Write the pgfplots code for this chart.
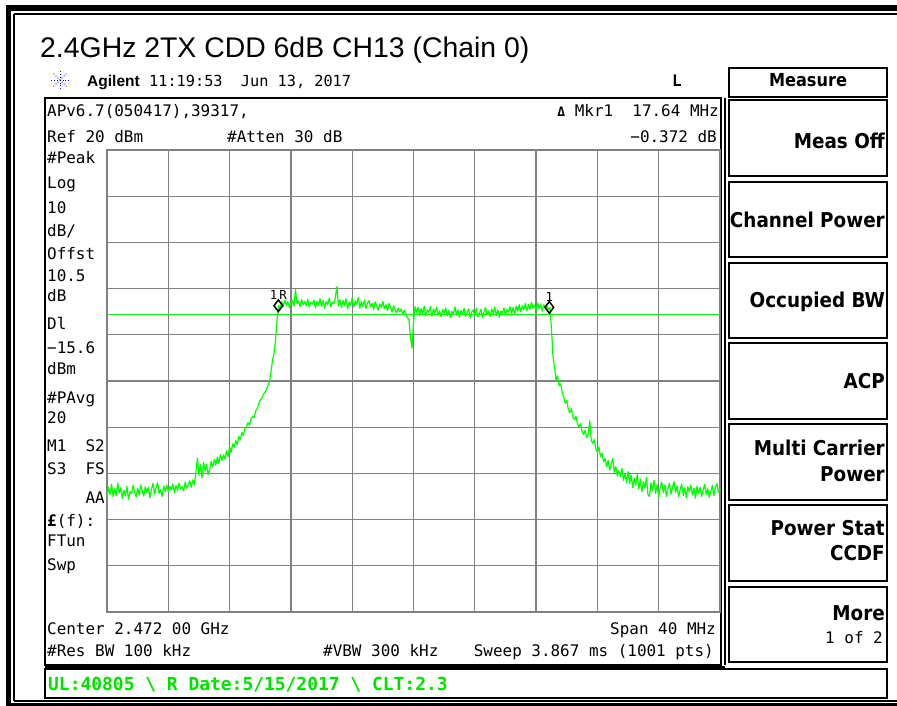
\documentclass[border=0pt]{standalone}
\usepackage{fontspec}
\usepackage{pgfplots}
\usepackage{pgfplotstable}
\pgfplotsset{compat=1.18}
\setmainfont{Liberation Sans}
\newfontfamily\mono{DejaVu Sans Mono}
\newfontfamily\keyf{DejaVu Sans Condensed}
\definecolor{trace}{RGB}{0,255,0}
\definecolor{gridc}{RGB}{128,128,128}
\definecolor{txtgreen}{RGB}{0,225,0}
\pgfplotstableread{
f p
2452.0 -55.2
2452.1 -53.0
2452.2 -54.6
2452.3 -52.4
2452.4 -55.0
2452.5 -53.3
2452.6 -54.8
2452.7 -52.1
2452.8 -54.2
2452.9 -53.1
2453.0 -55.4
2453.1 -53.6
2453.2 -54.9
2453.3 -52.8
2453.4 -55.6
2453.5 -53.9
2453.6 -54.4
2453.7 -52.6
2453.8 -54.0
2453.9 -55.1
2454.0 -53.2
2454.1 -54.7
2454.2 -52.5
2454.3 -53.8
2454.4 -54.9
2454.5 -52.9
2454.6 -54.1
2454.7 -53.0
2454.8 -55.3
2454.9 -53.4
2455.0 -52.2
2455.1 -54.5
2455.2 -53.1
2455.3 -52.0
2455.4 -54.3
2455.5 -53.5
2455.6 -55.0
2455.7 -52.7
2455.8 -53.9
2455.9 -52.5
2456.0 -54.0
2456.1 -52.8
2456.2 -53.6
2456.3 -52.3
2456.4 -54.2
2456.5 -52.6
2456.6 -53.7
2456.7 -52.1
2456.8 -53.4
2456.9 -52.9
2457.0 -53.8
2457.1 -51.9
2457.2 -53.2
2457.3 -52.4
2457.4 -51.6
2457.5 -53.0
2457.6 -51.4
2457.7 -52.5
2457.8 -49.8
2457.9 -46.7
2458.0 -50.4
2458.1 -48.1
2458.2 -51.0
2458.3 -47.6
2458.4 -49.5
2458.5 -48.0
2458.6 -50.3
2458.7 -49.2
2458.8 -47.4
2458.9 -48.6
2459.0 -47.0
2459.1 -48.2
2459.2 -46.5
2459.3 -47.8
2459.4 -45.9
2459.5 -47.2
2459.6 -46.0
2459.7 -46.9
2459.8 -45.1
2459.9 -46.4
2460.0 -44.2
2460.1 -45.5
2460.2 -43.6
2460.3 -44.4
2460.4 -42.9
2460.5 -43.8
2460.6 -42.0
2460.7 -42.6
2460.8 -41.1
2460.9 -41.8
2461.0 -40.2
2461.1 -39.9
2461.2 -39.0
2461.3 -39.6
2461.4 -38.1
2461.5 -37.7
2461.6 -37.9
2461.7 -36.5
2461.8 -36.0
2461.9 -34.9
2462.0 -34.1
2462.1 -33.8
2462.2 -32.9
2462.3 -32.5
2462.4 -31.9
2462.5 -31.0
2462.6 -30.2
2462.7 -28.0
2462.8 -25.5
2462.9 -24.0
2463.0 -21.1
2463.1 -16.5
2463.2 -13.7
2463.3 -14.5
2463.4 -12.8
2463.5 -13.9
2463.6 -12.5
2463.7 -13.6
2463.8 -12.9
2463.9 -14.1
2464.0 -13.0
2464.1 -12.6
2464.2 -13.8
2464.3 -10.2
2464.4 -13.3
2464.5 -12.7
2464.6 -13.9
2464.7 -12.4
2464.8 -13.5
2464.9 -12.8
2465.0 -13.7
2465.1 -12.3
2465.2 -14.0
2465.3 -12.9
2465.4 -13.4
2465.5 -12.5
2465.6 -14.2
2465.7 -12.7
2465.8 -13.6
2465.9 -12.2
2466.0 -13.9
2466.1 -12.6
2466.2 -14.3
2466.3 -12.8
2466.4 -13.5
2466.5 -12.1
2466.6 -14.0
2466.7 -12.9
2466.8 -13.3
2466.9 -11.8
2467.0 -9.6
2467.1 -13.8
2467.2 -12.4
2467.3 -14.1
2467.4 -12.6
2467.5 -13.7
2467.6 -12.2
2467.7 -14.4
2467.8 -12.9
2467.9 -13.6
2468.0 -12.0
2468.1 -14.0
2468.2 -12.7
2468.3 -13.4
2468.4 -11.9
2468.5 -14.2
2468.6 -12.8
2468.7 -13.9
2468.8 -12.5
2468.9 -14.3
2469.0 -13.1
2469.1 -12.6
2469.2 -14.0
2469.3 -13.2
2469.4 -14.5
2469.5 -12.9
2469.6 -13.8
2469.7 -14.6
2469.8 -13.3
2469.9 -14.1
2470.0 -12.8
2470.1 -14.4
2470.2 -13.5
2470.3 -14.8
2470.4 -13.2
2470.5 -14.0
2470.6 -15.1
2470.7 -13.7
2470.8 -14.6
2470.9 -15.3
2471.0 -14.2
2471.1 -15.0
2471.2 -14.4
2471.3 -15.6
2471.4 -14.7
2471.5 -15.4
2471.6 -16.2
2471.7 -16.8
2471.8 -20.4
2471.9 -22.9
2472.0 -17.5
2472.1 -13.9
2472.2 -15.2
2472.3 -14.0
2472.4 -15.8
2472.5 -14.3
2472.6 -15.5
2472.7 -13.8
2472.8 -15.9
2472.9 -14.6
2473.0 -15.2
2473.1 -13.9
2473.2 -16.0
2473.3 -14.4
2473.4 -15.3
2473.5 -14.1
2473.6 -15.7
2473.7 -14.8
2473.8 -16.1
2473.9 -14.5
2474.0 -15.4
2474.1 -14.2
2474.2 -15.9
2474.3 -14.7
2474.4 -16.3
2474.5 -14.9
2474.6 -15.6
2474.7 -14.0
2474.8 -15.8
2474.9 -14.6
2475.0 -16.2
2475.1 -14.8
2475.2 -15.5
2475.3 -14.3
2475.4 -16.0
2475.5 -15.0
2475.6 -14.4
2475.7 -16.4
2475.8 -15.1
2475.9 -14.6
2476.0 -15.9
2476.1 -14.2
2476.2 -16.1
2476.3 -15.3
2476.4 -14.5
2476.5 -16.3
2476.6 -15.0
2476.7 -14.1
2476.8 -15.7
2476.9 -14.8
2477.0 -16.0
2477.1 -14.4
2477.2 -15.4
2477.3 -14.0
2477.4 -15.8
2477.5 -14.6
2477.6 -16.2
2477.7 -14.9
2477.8 -15.3
2477.9 -14.2
2478.0 -15.7
2478.1 -14.5
2478.2 -15.1
2478.3 -13.9
2478.4 -15.4
2478.5 -14.1
2478.6 -15.6
2478.7 -13.8
2478.8 -14.9
2478.9 -13.5
2479.0 -15.0
2479.1 -13.7
2479.2 -14.6
2479.3 -13.2
2479.4 -14.8
2479.5 -13.4
2479.6 -14.5
2479.7 -13.0
2479.8 -14.3
2479.9 -13.6
2480.0 -14.7
2480.1 -13.1
2480.2 -14.4
2480.3 -13.3
2480.4 -14.9
2480.5 -13.5
2480.6 -14.2
2480.7 -13.8
2480.8 -14.6
2480.9 -14.0
2481.0 -18.5
2481.1 -24.6
2481.2 -27.0
2481.3 -29.8
2481.4 -28.9
2481.5 -31.0
2481.6 -30.6
2481.7 -32.4
2481.8 -33.5
2481.9 -34.8
2482.0 -34.2
2482.1 -36.1
2482.2 -36.9
2482.3 -36.0
2482.4 -37.8
2482.5 -38.4
2482.6 -37.6
2482.7 -39.3
2482.8 -40.0
2482.9 -39.2
2483.0 -41.0
2483.1 -41.6
2483.2 -40.7
2483.3 -42.3
2483.4 -41.5
2483.5 -38.6
2483.6 -42.9
2483.7 -43.5
2483.8 -42.6
2483.9 -44.8
2484.0 -45.4
2484.1 -44.3
2484.2 -46.4
2484.3 -45.6
2484.4 -47.5
2484.5 -46.8
2484.6 -48.6
2484.7 -47.2
2484.8 -49.3
2484.9 -48.0
2485.0 -46.7
2485.1 -49.8
2485.2 -48.5
2485.3 -50.6
2485.4 -49.4
2485.5 -50.7
2485.6 -48.9
2485.7 -51.5
2485.8 -50.1
2485.9 -52.0
2486.0 -49.6
2486.1 -52.2
2486.2 -50.4
2486.3 -53.1
2486.4 -51.0
2486.5 -52.6
2486.6 -50.2
2486.7 -53.4
2486.8 -51.3
2486.9 -54.0
2487.0 -51.8
2487.1 -53.2
2487.2 -50.9
2487.3 -54.6
2487.4 -55.0
2487.5 -52.0
2487.6 -53.7
2487.7 -51.5
2487.8 -54.3
2487.9 -52.4
2488.0 -55.2
2488.1 -52.8
2488.2 -51.9
2488.3 -54.1
2488.4 -52.6
2488.5 -55.0
2488.6 -53.3
2488.7 -52.1
2488.8 -54.5
2488.9 -53.0
2489.0 -51.8
2489.1 -54.2
2489.2 -52.7
2489.3 -55.1
2489.4 -53.5
2489.5 -52.3
2489.6 -54.8
2489.7 -53.1
2489.8 -55.3
2489.9 -52.9
2490.0 -54.0
2490.1 -52.5
2490.2 -54.7
2490.3 -53.2
2490.4 -55.4
2490.5 -52.8
2490.6 -54.3
2490.7 -53.0
2490.8 -55.0
2490.9 -53.6
2491.0 -52.4
2491.1 -54.6
2491.2 -53.3
2491.3 -55.2
2491.4 -53.9
2491.5 -52.6
2491.6 -54.8
2491.7 -53.0
2491.8 -52.2
2491.9 -54.1
2492.0 -53.1
}\spectrum

\newcommand{\mfont}{\mono\fontsize{16}{16}\selectfont}
\newcommand{\kfont}{\keyf\bfseries\fontsize{20.5}{20.5}\selectfont}

\begin{document}
\begin{tikzpicture}[x=1bp,y=-1bp]
\useasboundingbox (0,0) rectangle (897,706);
% outer frame
\fill[black] (6,5) rectangle (897,11);
\fill[black] (6,5) rectangle (11,706);
\fill[black] (6,703) rectangle (897,706);
\draw[line width=1.8bp] (14,14) -- (897,14);
\draw[line width=1.8bp] (14,14) -- (14,701);
\draw[line width=1.8bp] (14,701) -- (897,701);
% title
\node[anchor=base west, inner sep=0pt, font=\fontsize{28.5}{28.5}\selectfont] at (40,58) {2.4GHz 2TX CDD 6dB CH13 (Chain 0)};
% header
\begin{scope}[blue, line width=0.9bp, dotted]
\draw (51,80) -- (69,80);
\draw (60,71) -- (60,89);
\draw (53.6,73.6) -- (66.4,86.4);
\draw (53.6,86.4) -- (66.4,73.6);
\end{scope}
\node[anchor=base west, inner sep=0pt, font=\bfseries\fontsize{15.6}{15.6}\selectfont] at (87,87) {Agilent};
\node[anchor=base west, inner sep=0pt, font=\mono\fontsize{15.3}{15.3}\selectfont] at (149,87) {11:19:53\ \ Jun 13, 2017};
\node[anchor=base, inner sep=0pt, font=\mono\bfseries\fontsize{16}{16}\selectfont] at (677,87) {L};
% Measure box
\draw[line width=2.4bp] (729,68) rectangle (887,97);
\node[anchor=base, inner sep=0pt, font=\keyf\bfseries\fontsize{18}{18}\selectfont] at (808,87) {Measure};
% screen box
\draw[line width=2.2bp] (45,98) rectangle (721,665);
\draw[line width=1.5bp] (725,98) -- (725,665);
\draw[line width=1.2bp] (45,667) -- (725,667);
% green box
\draw[line width=2.2bp] (45,669) rectangle (887,698);
\node[anchor=base west, inner sep=0pt, text=txtgreen, font=\mono\bfseries\fontsize{18}{18}\selectfont] at (48,690) {UL:40805 \textbackslash{} R Date:5/15/2017 \textbackslash{} CLT:2.3};
% softkeys
\foreach \ya/\yb in {100/176,182/257,263/338,343/419,424/500,505/581,587/662}{
  \draw[line width=2.4bp] (729,\ya) rectangle (887,\yb);
}
\node[anchor=base east, inner sep=0pt, font=\kfont] at (885,149) {Meas Off};
\node[anchor=base east, inner sep=0pt, font=\kfont] at (885,227) {Channel Power};
\node[anchor=base east, inner sep=0pt, font=\kfont] at (885,307) {Occupied BW};
\node[anchor=base east, inner sep=0pt, font=\kfont] at (885,388) {ACP};
\node[anchor=base east, inner sep=0pt, font=\kfont] at (885,455) {Multi Carrier};
\node[anchor=base east, inner sep=0pt, font=\kfont] at (885,481) {Power};
\node[anchor=base east, inner sep=0pt, font=\kfont] at (885,535) {Power Stat};
\node[anchor=base east, inner sep=0pt, font=\kfont] at (885,560) {CCDF};
\node[anchor=base east, inner sep=0pt, font=\kfont] at (885,620) {More};
\node[anchor=base east, inner sep=0pt, font=\mfont] at (883,643) {1 of 2};
% screen text
\node[anchor=base west, inner sep=0pt, font=\mfont] at (47,117) {APv6.7(050417),39317,};
\node[anchor=base west, inner sep=0pt, font=\mfont] at (47,143) {Ref 20 dBm};
\node[anchor=base west, inner sep=0pt, font=\mfont] at (227,143) {\#Atten 30 dB};
\node[anchor=base east, inner sep=0pt, font=\mfont] at (719,117) {{\bfseries\fontsize{13}{13}\selectfont Δ}\ Mkr1\ \ 17.64 MHz};
\node[anchor=base east, inner sep=0pt, font=\mfont] at (717,143) {−0.372 dB};
\node[anchor=base west, inner sep=0pt, font=\mfont] at (47,164) {\#Peak};
\node[anchor=base west, inner sep=0pt, font=\mfont] at (47,188) {Log};
\node[anchor=base west, inner sep=0pt, font=\mfont] at (47,213) {10};
\node[anchor=base west, inner sep=0pt, font=\mfont] at (47,236) {dB/};
\node[anchor=base west, inner sep=0pt, font=\mfont] at (47,259) {Offst};
\node[anchor=base west, inner sep=0pt, font=\mfont] at (47,281) {10.5};
\node[anchor=base west, inner sep=0pt, font=\mfont] at (47,301) {dB};
\node[anchor=base west, inner sep=0pt, font=\mfont] at (47,329) {Dl};
\node[anchor=base west, inner sep=0pt, font=\mfont] at (47,353) {−15.6};
\node[anchor=base west, inner sep=0pt, font=\mfont] at (47,374) {dBm};
\node[anchor=base west, inner sep=0pt, font=\mfont] at (47,403) {\#PAvg};
\node[anchor=base west, inner sep=0pt, font=\mfont] at (47,423) {20};
\node[anchor=base west, inner sep=0pt, font=\mfont] at (47,451) {M1\ \ S2};
\node[anchor=base west, inner sep=0pt, font=\mfont] at (47,474) {S3\ \ FS};
\node[anchor=base east, inner sep=0pt, font=\mfont] at (105,503) {AA};
\node[anchor=base west, inner sep=0pt, font=\mfont] at (47,526) {{\bfseries £}(f):};
\node[anchor=base west, inner sep=0pt, font=\mfont] at (47,546) {FTun};
\node[anchor=base west, inner sep=0pt, font=\mfont] at (47,570) {Swp};
\node[anchor=base west, inner sep=0pt, font=\mfont] at (47,634) {Center 2.472 00 GHz};
\node[anchor=base west, inner sep=0pt, font=\mfont] at (47,656) {\#Res BW 100 kHz};
\node[anchor=base west, inner sep=0pt, font=\mfont] at (323,656) {\#VBW 300 kHz};
\node[anchor=base east, inner sep=0pt, font=\mfont] at (716,634) {Span 40 MHz};
\node[anchor=base east, inner sep=0pt, font=\mfont] at (714,656) {Sweep 3.867 ms (1001 pts)};
% the plot
\begin{axis}[at={(107bp,-612bp)}, anchor=south west, width=613bp, height=462bp, scale only axis,
  xmin=2452, xmax=2492, ymin=-80, ymax=20,
  xtick={2452,2456,...,2492}, ytick={-80,-70,...,20},
  xticklabels={}, yticklabels={}, major tick length=0pt,
  grid=major, grid style={gridc, line width=1.3bp},
  axis line style={gridc, line width=1.6bp},
  clip=false]
\addplot[trace, line width=1.1bp, forget plot] coordinates {(2452,-15.6) (2492,-15.6)};
\addplot[trace, line width=1.2bp, line join=round] table[x=f, y=p] {\spectrum};
\addplot[only marks, mark=diamond, mark size=5.8bp,
  mark options={black, line width=1.5bp, fill=white},
  nodes near coords, point meta=explicit symbolic,
  nodes near coords style={font=\mono\fontsize{12.5}{12.5}\selectfont, anchor=south, yshift=4bp, inner sep=1pt}]
  coordinates {(2463.18,-13.7) [1\,R] (2480.86,-14.07) [1]};
\end{axis}
\end{tikzpicture}
\end{document}
